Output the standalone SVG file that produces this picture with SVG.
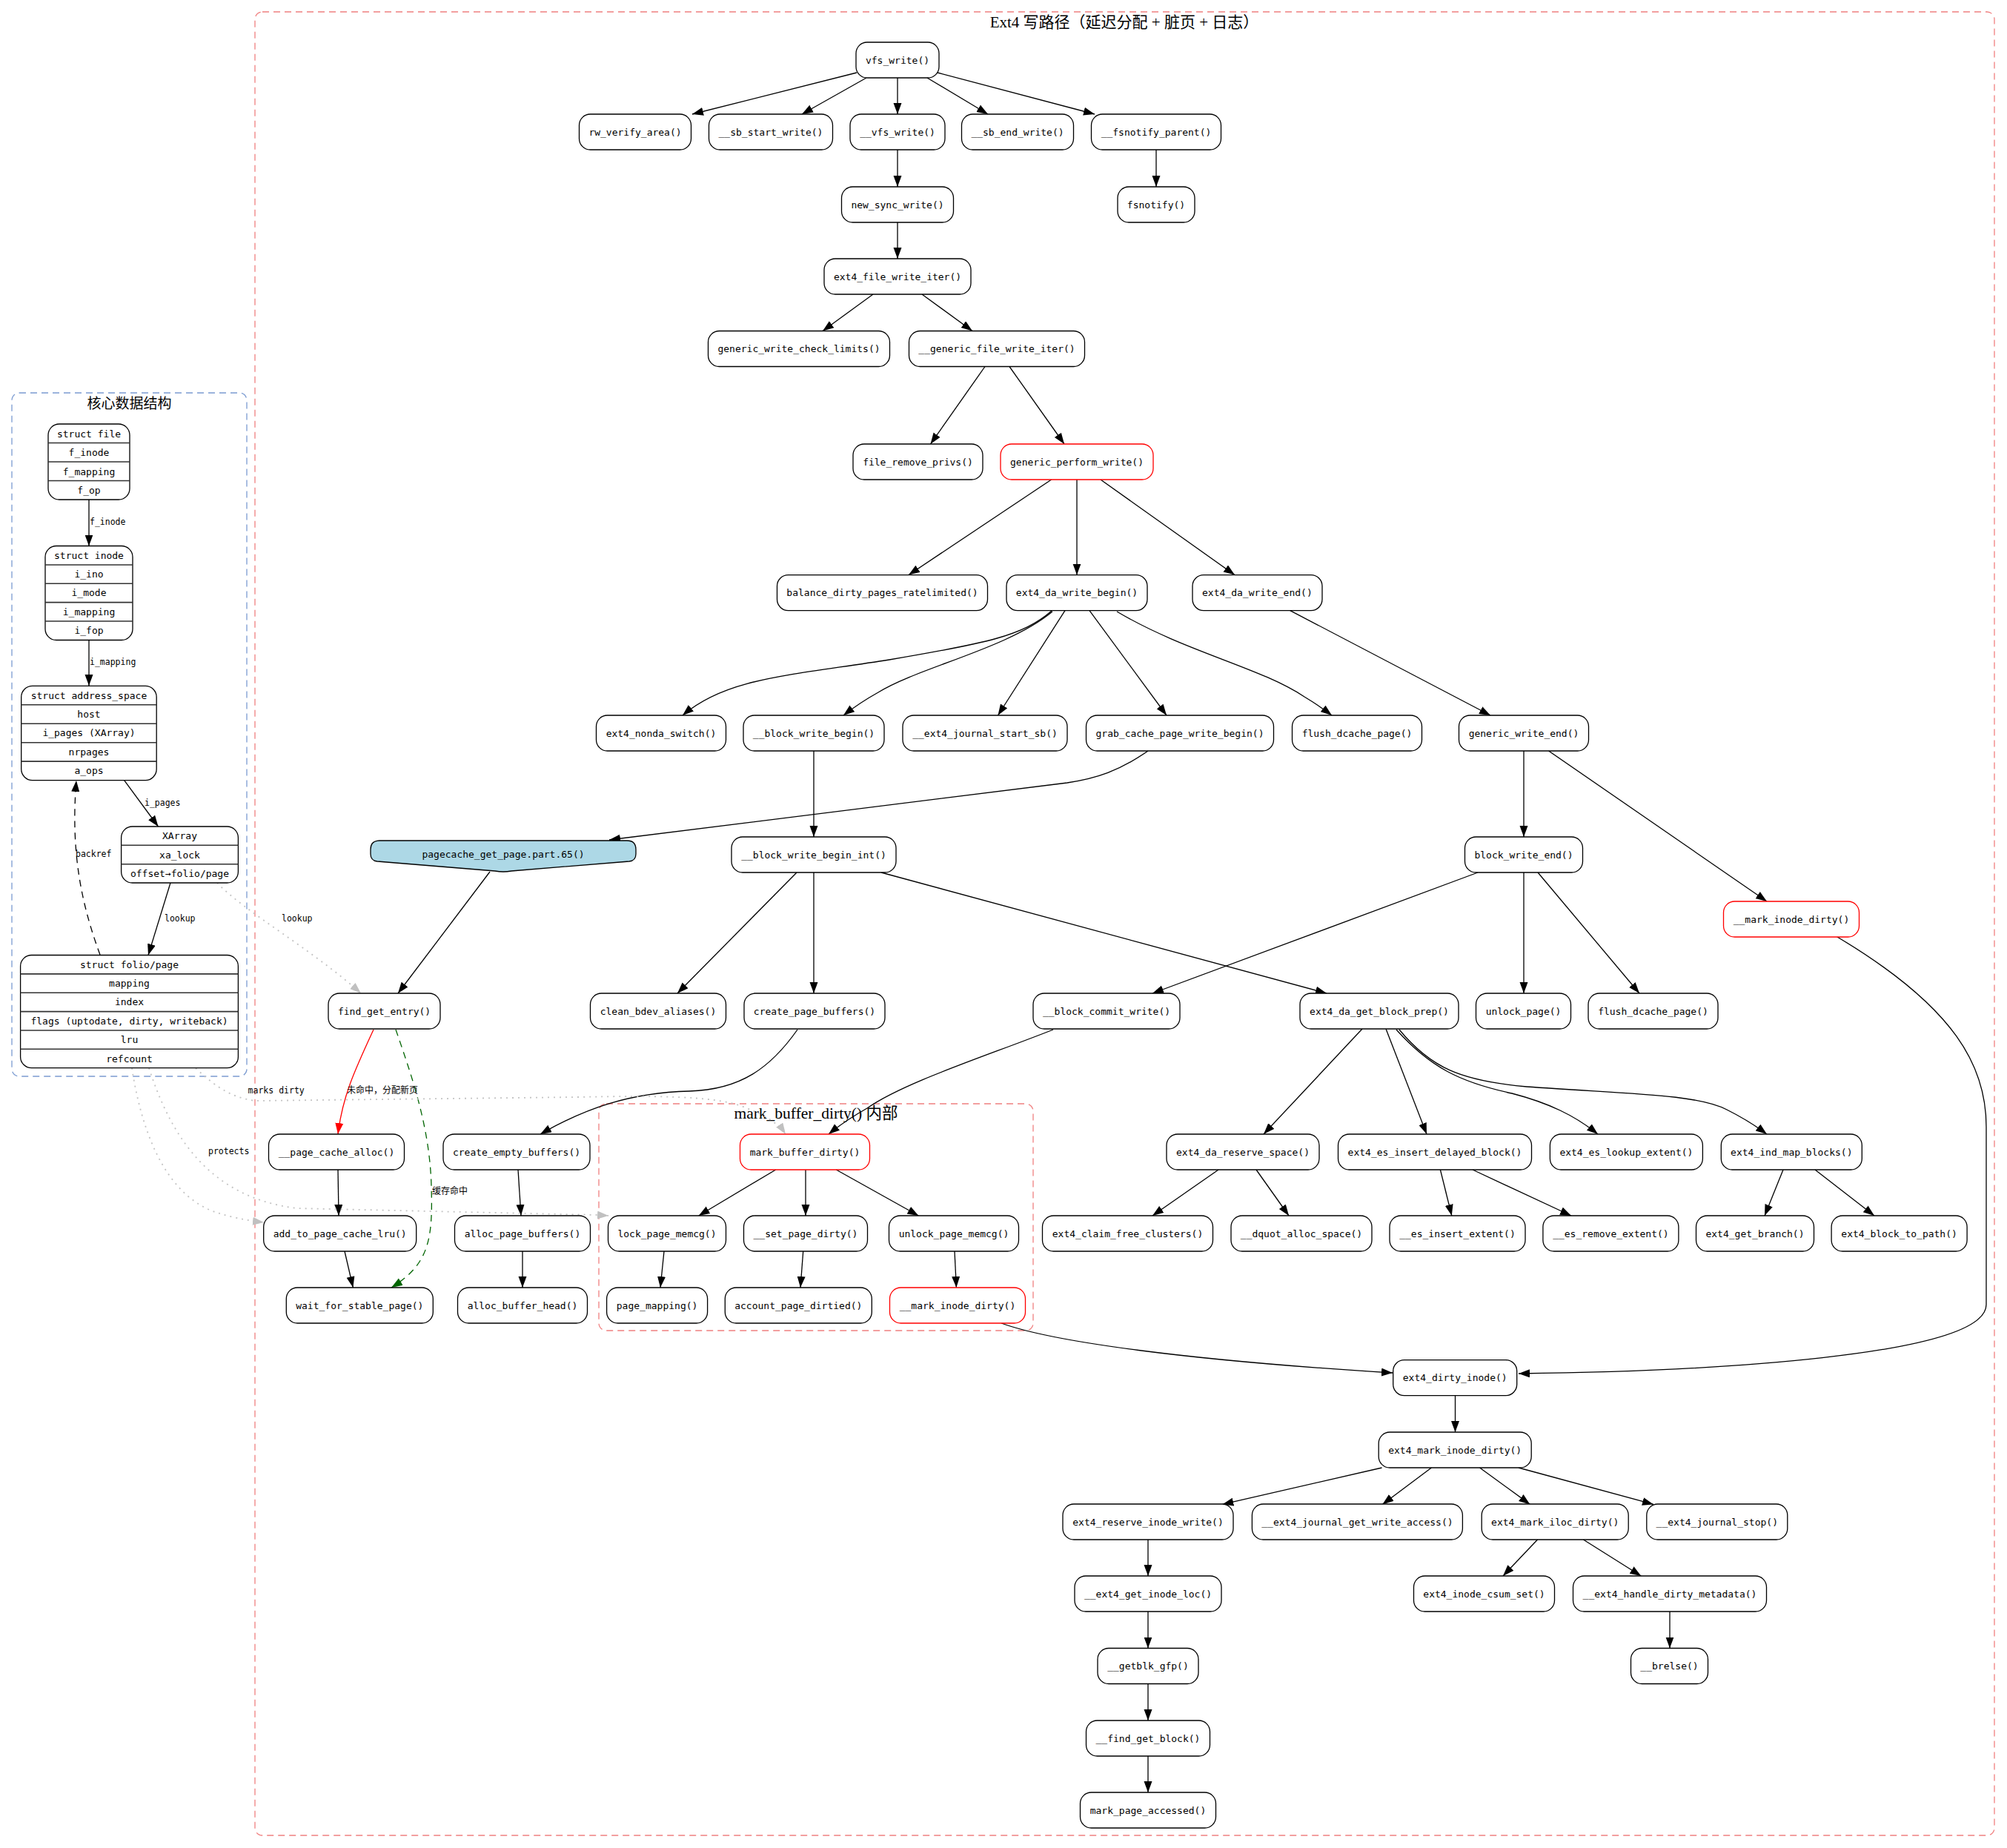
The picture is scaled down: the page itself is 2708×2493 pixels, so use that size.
<svg xmlns="http://www.w3.org/2000/svg" width="2708" height="2493" viewBox="0 0 2708 2493">
<style>
.bg{fill:#fff}
.b{fill:#fff;stroke:#000;stroke-width:1.3}
.r{stroke:#f00}
.t{font-family:"DejaVu Sans Mono",monospace;font-size:13px;text-anchor:middle;fill:#000}
.el{font-family:"DejaVu Sans Mono","Noto Sans CJK SC",monospace;font-size:11.5px;fill:#000}
.ct{font-family:"Liberation Serif","Noto Sans CJK SC",serif;font-size:19px;text-anchor:middle;fill:#000}
.cl{fill:none;stroke:#f08080;stroke-width:1.3;stroke-dasharray:9 6}
.cb{fill:none;stroke:#7b9bd1;stroke-width:1.3;stroke-dasharray:9 6}
.e{fill:none;stroke:#000;stroke-width:1.3}
.dv{stroke:#333;stroke-width:1.6}
.g{fill:none;stroke:#c4c4c4;stroke-width:1.8;stroke-dasharray:2 6}
</style>
<defs>
<marker id="a" markerUnits="userSpaceOnUse" markerWidth="16" markerHeight="12" refX="15" refY="5.5" orient="auto"><path d="M0,0 L15,5.5 L0,11 z" fill="#000"/></marker>
<marker id="ar" markerUnits="userSpaceOnUse" markerWidth="16" markerHeight="12" refX="15" refY="5.5" orient="auto"><path d="M0,0 L15,5.5 L0,11 z" fill="#f00"/></marker>
<marker id="ag" markerUnits="userSpaceOnUse" markerWidth="16" markerHeight="12" refX="15" refY="5.5" orient="auto"><path d="M0,0 L15,5.5 L0,11 z" fill="#006400"/></marker>
<marker id="ay" markerUnits="userSpaceOnUse" markerWidth="16" markerHeight="12" refX="15" refY="5.5" orient="auto"><path d="M0,0 L15,5.5 L0,11 z" fill="#c0c0c0"/></marker>
</defs>
<rect class="bg" x="0" y="0" width="2708" height="2493"/>

<g id="clusters">
<rect class="cl" x="344" y="16" width="2347" height="2460" rx="10"/>
<text class="ct" x="1517" y="37" style="font-size:21px">Ext4 写路径（延迟分配 + 脏页 + 日志）</text>
<rect class="cb" x="16" y="530" width="317" height="922" rx="10"/>
<text class="ct" x="174.5" y="551">核心数据结构</text>
<rect class="cl" x="808" y="1489" width="586" height="306" rx="10"/>
<text class="ct" x="1101" y="1509" style="font-size:21.5px">mark_buffer_dirty() 内部</text>
</g>

<g id="edges">
<path class="e" marker-end="url(#a)" d="M1156,98 L934,154"/>
<path class="e" marker-end="url(#a)" d="M1169,105 L1082,154"/>
<path class="e" marker-end="url(#a)" d="M1211,105 L1211,154"/>
<path class="e" marker-end="url(#a)" d="M1251,105 L1333,154"/>
<path class="e" marker-end="url(#a)" d="M1265,98 L1477,154"/>
<path class="e" marker-end="url(#a)" d="M1211,202 L1211,252"/>
<path class="e" marker-end="url(#a)" d="M1560,202 L1560,252"/>
<path class="e" marker-end="url(#a)" d="M1211,300 L1211,349"/>
<path class="e" marker-end="url(#a)" d="M1178,397 L1110,446.5"/>
<path class="e" marker-end="url(#a)" d="M1244,397 L1312,446.5"/>
<path class="e" marker-end="url(#a)" d="M1329,494.5 L1255.5,599"/>
<path class="e" marker-end="url(#a)" d="M1362,494.5 L1436,599"/>
<path class="e" marker-end="url(#a)" d="M1418.6,647 L1226,775.6"/>
<path class="e" marker-end="url(#a)" d="M1453,647 L1453,775.6"/>
<path class="e" marker-end="url(#a)" d="M1485,647 L1666,775.6"/>
<path class="e" marker-end="url(#a)" d="M1419,824 C1380,858 1330,868 1200,890 C1060,912 980,915 921,965"/>
<path class="e" marker-end="url(#a)" d="M1420,825 C1360,875 1240,900 1185,934 Q1160,948 1138,965"/>
<path class="e" marker-end="url(#a)" d="M1437,823.6 L1346.5,965"/>
<path class="e" marker-end="url(#a)" d="M1470,823.6 L1574,965"/>
<path class="e" marker-end="url(#a)" d="M1507,825 C1600,880 1700,900 1760,940 Q1780,952 1797,965"/>
<path class="e" marker-end="url(#a)" d="M1740.7,823.6 L2011,965"/>
<path class="e" marker-end="url(#a)" d="M2056,1013 L2056,1129"/>
<path class="e" marker-end="url(#a)" d="M2089.6,1013 L2384,1216"/>
<path class="e" marker-end="url(#a)" d="M1549,1013 C1510,1040 1480,1050 1440,1056 L822,1133"/>
<path class="e" marker-end="url(#a)" d="M1098,1013 L1098,1129"/>
<path class="e" marker-end="url(#a)" d="M661,1176 L537,1340"/>
<path class="e" marker-end="url(#a)" d="M1075,1177 L914,1340"/>
<path class="e" marker-end="url(#a)" d="M1098,1177 L1098,1340"/>
<path class="e" marker-end="url(#a)" d="M1189,1177 L1790,1340"/>
<path class="e" marker-end="url(#a)" d="M1994,1177 L1555,1340"/>
<path class="e" marker-end="url(#a)" d="M2056,1177 L2056,1340"/>
<path class="e" marker-end="url(#a)" d="M2075,1177 L2212,1340"/>
<path class="e" marker-end="url(#a)" d="M2478.6,1263.7 C2640,1360 2680,1440 2680,1520 L2680,1760 C2680,1830 2300,1850 2049,1853"/>
<path class="e" style="stroke:#f00" marker-end="url(#ar)" d="M504,1389 C478,1445 462,1480 456,1530"/>
<path class="e" style="stroke:#006400;stroke-dasharray:9 7" marker-end="url(#ag)" d="M534,1389 C555,1450 580,1520 582,1600 C584,1670 580,1705 528,1737"/>
<path class="e" marker-end="url(#a)" d="M1076,1389 C1040,1440 1000,1470 930,1472 C850,1474 790,1495 729,1530"/>
<path class="e" marker-end="url(#a)" d="M1421,1389 C1330,1425 1220,1460 1170,1495 Q1140,1512 1118,1530"/>
<path class="e" marker-end="url(#a)" d="M1838,1388 L1705,1530"/>
<path class="e" marker-end="url(#a)" d="M1870,1388 L1925,1530"/>
<path class="e" marker-end="url(#a)" d="M1884,1389 C1930,1440 1970,1460 2040,1475 C2090,1488 2125,1505 2156,1530"/>
<path class="e" marker-end="url(#a)" d="M1888,1389 C1930,1440 1970,1458 2060,1466 C2200,1476 2290,1476 2330,1497 Q2360,1512 2384,1530"/>
<path class="e" marker-end="url(#a)" d="M456,1578 L457,1640"/>
<path class="e" marker-end="url(#a)" d="M465,1688 L476.4,1737"/>
<path class="e" marker-end="url(#a)" d="M699,1578 L703,1640"/>
<path class="e" marker-end="url(#a)" d="M705,1688 L705,1737"/>
<path class="e" marker-end="url(#a)" d="M1046.7,1578 L942.7,1640"/>
<path class="e" marker-end="url(#a)" d="M1087,1578 L1087,1640"/>
<path class="e" marker-end="url(#a)" d="M1128.3,1578 L1239.4,1640"/>
<path class="e" marker-end="url(#a)" d="M896,1688 L891,1737"/>
<path class="e" marker-end="url(#a)" d="M1083.7,1688 L1080,1737"/>
<path class="e" marker-end="url(#a)" d="M1288,1688 L1290.4,1737"/>
<path class="e" marker-end="url(#a)" d="M1644,1578 L1555,1640"/>
<path class="e" marker-end="url(#a)" d="M1695,1578 L1739,1640"/>
<path class="e" marker-end="url(#a)" d="M1943.4,1578 L1958.8,1640"/>
<path class="e" marker-end="url(#a)" d="M1987,1578 L2120,1640"/>
<path class="e" marker-end="url(#a)" d="M2406,1578 L2381,1640"/>
<path class="e" marker-end="url(#a)" d="M2449,1578 L2529,1640"/>
<path class="e" marker-end="url(#a)" d="M1351,1785 C1420,1810 1600,1835 1879,1852"/>
<path class="e" marker-end="url(#a)" d="M1963.5,1882.5 L1963.5,1932"/>
<path class="e" marker-end="url(#a)" d="M1864.5,1980 L1649.3,2029.4"/>
<path class="e" marker-end="url(#a)" d="M1931.4,1980 L1865.3,2029.4"/>
<path class="e" marker-end="url(#a)" d="M1996.6,1980 L2064.4,2029.4"/>
<path class="e" marker-end="url(#a)" d="M2049,1980 L2231,2029.4"/>
<path class="e" marker-end="url(#a)" d="M1549,2077 L1549,2126"/>
<path class="e" marker-end="url(#a)" d="M2074.5,2077 L2028,2126"/>
<path class="e" marker-end="url(#a)" d="M2136.4,2077 L2214.3,2126"/>
<path class="e" marker-end="url(#a)" d="M1549,2174 L1549,2223.5"/>
<path class="e" marker-end="url(#a)" d="M2253,2174 L2253,2223.5"/>
<path class="e" marker-end="url(#a)" d="M1549,2271.5 L1549,2321"/>
<path class="e" marker-end="url(#a)" d="M1549,2369 L1549,2418"/>
<path class="e" marker-end="url(#a)" d="M120,674 L120,736.5"/>
<path class="e" marker-end="url(#a)" d="M120,863 L120,925"/>
<path class="e" marker-end="url(#a)" d="M167.6,1052.6 L213.5,1115"/>
<path class="e" marker-end="url(#a)" d="M230,1191 L200,1288.5"/>
<path class="e" style="stroke-dasharray:9 7" marker-end="url(#a)" d="M135,1288 C110,1220 95,1150 103,1053"/>
<path class="g" marker-end="url(#ay)" d="M293,1191 C330,1230 420,1280 487,1340"/>
<path class="g" marker-end="url(#ay)" d="M264,1441 C290,1465 310,1480 344,1485 L780,1480 C880,1478 960,1478 1000,1492 C1030,1503 1050,1515 1060,1530"/>
<path class="g" marker-end="url(#ay)" d="M178,1441 C190,1520 220,1610 290,1635 Q320,1645 356,1649"/>
<path class="g" marker-end="url(#ay)" d="M201,1441 C230,1530 280,1615 400,1630 L805,1639 L821,1640"/>
<text class="el" x="121" y="708">f_inode</text>
<text class="el" x="121" y="897">i_mapping</text>
<text class="el" x="195" y="1086.5">i_pages</text>
<text class="el" x="222" y="1243">lookup</text>
<text class="el" x="102" y="1155.5">backref</text>
<text class="el" x="380" y="1243">lookup</text>
<text class="el" x="334.6" y="1474.5">marks dirty</text>
<text class="el" x="281" y="1557">protects</text>
<text class="el" x="468" y="1475" style="font-size:12px">未命中，分配新页</text>
<text class="el" x="583" y="1611" style="font-size:12px">缓存命中</text>
</g>

<g id="struct_file">
<rect class="b" x="65" y="572" width="110" height="102" rx="15"/>
<line class="dv" x1="65" y1="597.5" x2="175" y2="597.5"/><line class="dv" x1="65" y1="623" x2="175" y2="623"/><line class="dv" x1="65" y1="648.5" x2="175" y2="648.5"/>
<text class="t" x="120" y="589.5">struct file</text><text class="t" x="120" y="615">f_inode</text><text class="t" x="120" y="640.5">f_mapping</text><text class="t" x="120" y="666">f_op</text>
</g>
<g id="struct_inode">
<rect class="b" x="61" y="736.5" width="118" height="127" rx="15"/>
<line class="dv" x1="61" y1="762" x2="179" y2="762"/><line class="dv" x1="61" y1="787.3" x2="179" y2="787.3"/><line class="dv" x1="61" y1="812.6" x2="179" y2="812.6"/><line class="dv" x1="61" y1="838" x2="179" y2="838"/>
<text class="t" x="120" y="753.7">struct inode</text><text class="t" x="120" y="779">i_ino</text><text class="t" x="120" y="804.4">i_mode</text><text class="t" x="120" y="829.8">i_mapping</text><text class="t" x="120" y="855">i_fop</text>
</g>
<g id="address_space">
<rect class="b" x="28.7" y="925.3" width="182.5" height="127.3" rx="15"/>
<line class="dv" x1="28.7" y1="950.8" x2="211.2" y2="950.8"/><line class="dv" x1="28.7" y1="976.2" x2="211.2" y2="976.2"/><line class="dv" x1="28.7" y1="1001.7" x2="211.2" y2="1001.7"/><line class="dv" x1="28.7" y1="1027.1" x2="211.2" y2="1027.1"/>
<text class="t" x="120" y="942.5">struct address_space</text><text class="t" x="120" y="968">host</text><text class="t" x="120" y="993.4">i_pages (XArray)</text><text class="t" x="120" y="1018.9">nrpages</text><text class="t" x="120" y="1044.3">a_ops</text>
</g>
<g id="xarray">
<rect class="b" x="163.6" y="1115" width="157.8" height="76" rx="15"/>
<line class="dv" x1="163.6" y1="1140.3" x2="321.4" y2="1140.3"/><line class="dv" x1="163.6" y1="1165.7" x2="321.4" y2="1165.7"/>
<text class="t" x="242.5" y="1132">XArray</text><text class="t" x="242.5" y="1157.5">xa_lock</text><text class="t" x="242.5" y="1182.8">offset→folio/page</text>
</g>
<g id="folio_page">
<rect class="b" x="27.6" y="1288.5" width="293.8" height="152.2" rx="15"/>
<line class="dv" x1="27.6" y1="1313.9" x2="321.4" y2="1313.9"/><line class="dv" x1="27.6" y1="1339.2" x2="321.4" y2="1339.2"/><line class="dv" x1="27.6" y1="1364.6" x2="321.4" y2="1364.6"/><line class="dv" x1="27.6" y1="1390" x2="321.4" y2="1390"/><line class="dv" x1="27.6" y1="1415.3" x2="321.4" y2="1415.3"/>
<text class="t" x="174.5" y="1305.7">struct folio/page</text><text class="t" x="174.5" y="1331">mapping</text><text class="t" x="174.5" y="1356.4">index</text><text class="t" x="174.5" y="1381.8">flags (uptodate, dirty, writeback)</text><text class="t" x="174.5" y="1407.2">lru</text><text class="t" x="174.5" y="1432.5">refcount</text>
</g>

<g id="vfs_write"><rect class="b" x="1155" y="57" width="112" height="48" rx="15"/><text class="t" x="1211" y="85.5">vfs_write()</text></g>
<g id="rw_verify_area"><rect class="b" x="781.5" y="154" width="151" height="48" rx="15"/><text class="t" x="857" y="182.5">rw_verify_area()</text></g>
<g id="sb_start_write"><rect class="b" x="956.5" y="154" width="167" height="48" rx="15"/><text class="t" x="1040" y="182.5">__sb_start_write()</text></g>
<g id="__vfs_write"><rect class="b" x="1147" y="154" width="128" height="48" rx="15"/><text class="t" x="1211" y="182.5">__vfs_write()</text></g>
<g id="sb_end_write"><rect class="b" x="1297.5" y="154" width="151" height="48" rx="15"/><text class="t" x="1373" y="182.5">__sb_end_write()</text></g>
<g id="fsnotify_parent"><rect class="b" x="1472.5" y="154" width="175" height="48" rx="15"/><text class="t" x="1560" y="182.5">__fsnotify_parent()</text></g>
<g id="new_sync_write"><rect class="b" x="1135.5" y="252" width="151" height="48" rx="15"/><text class="t" x="1211" y="280.5">new_sync_write()</text></g>
<g id="fsnotify"><rect class="b" x="1508" y="252" width="104" height="48" rx="15"/><text class="t" x="1560" y="280.5">fsnotify()</text></g>
<g id="ext4_file_write_iter"><rect class="b" x="1112" y="349" width="198" height="48" rx="15"/><text class="t" x="1211" y="377.5">ext4_file_write_iter()</text></g>
<g id="generic_write_check_limits"><rect class="b" x="955.5" y="446.5" width="245" height="48" rx="15"/><text class="t" x="1078" y="475">generic_write_check_limits()</text></g>
<g id="generic_file_write_iter"><rect class="b" x="1226.5" y="446.5" width="237" height="48" rx="15"/><text class="t" x="1345" y="475">__generic_file_write_iter()</text></g>
<g id="file_remove_privs"><rect class="b" x="1151" y="599" width="175" height="48" rx="15"/><text class="t" x="1238.5" y="627.5">file_remove_privs()</text></g>
<g id="generic_perform_write"><rect class="b r" x="1350" y="599" width="206" height="48" rx="15"/><text class="t" x="1453" y="627.5">generic_perform_write()</text></g>
<g id="balance_dirty_pages_ratelimited"><rect class="b" x="1048.5" y="775.6" width="284" height="48" rx="15"/><text class="t" x="1190.5" y="804.1">balance_dirty_pages_ratelimited()</text></g>
<g id="ext4_da_write_begin"><rect class="b" x="1358" y="775.6" width="190" height="48" rx="15"/><text class="t" x="1453" y="804.1">ext4_da_write_begin()</text></g>
<g id="ext4_da_write_end"><rect class="b" x="1609" y="775.6" width="175" height="48" rx="15"/><text class="t" x="1696.4" y="804.1">ext4_da_write_end()</text></g>
<g id="ext4_nonda_switch"><rect class="b" x="804.5" y="965" width="175" height="48" rx="15"/><text class="t" x="892" y="993.5">ext4_nonda_switch()</text></g>
<g id="block_write_begin"><rect class="b" x="1003" y="965" width="190" height="48" rx="15"/><text class="t" x="1098" y="993.5">__block_write_begin()</text></g>
<g id="ext4_journal_start_sb"><rect class="b" x="1218" y="965" width="222" height="48" rx="15"/><text class="t" x="1329" y="993.5">__ext4_journal_start_sb()</text></g>
<g id="grab_cache_page_write_begin"><rect class="b" x="1465.5" y="965" width="253" height="48" rx="15"/><text class="t" x="1592" y="993.5">grab_cache_page_write_begin()</text></g>
<g id="flush_dcache_page_1"><rect class="b" x="1743.5" y="965" width="175" height="48" rx="15"/><text class="t" x="1831" y="993.5">flush_dcache_page()</text></g>
<g id="generic_write_end"><rect class="b" x="1968.5" y="965" width="175" height="48" rx="15"/><text class="t" x="2056" y="993.5">generic_write_end()</text></g>
<g id="pagecache_get_page"><path d="M512,1134 L846,1134 Q858,1134 858,1146 L858,1152 Q858,1161 849,1162 L690,1175 Q679,1177 668,1175 L509,1162 Q500,1161 500,1152 L500,1146 Q500,1134 512,1134 Z" fill="#add8e6" stroke="#000" stroke-width="1.3"/><text class="t" x="679" y="1157">pagecache_get_page.part.65()</text></g>
<g id="block_write_begin_int"><rect class="b" x="987" y="1129" width="222" height="48" rx="15"/><text class="t" x="1098" y="1157.5">__block_write_begin_int()</text></g>
<g id="block_write_end"><rect class="b" x="1976.5" y="1129" width="159" height="48" rx="15"/><text class="t" x="2056" y="1157.5">block_write_end()</text></g>
<g id="mark_inode_dirty_outer"><rect class="b r" x="2325.5" y="1216" width="183" height="48" rx="15"/><text class="t" x="2417" y="1244.5">__mark_inode_dirty()</text></g>
<g id="find_get_entry"><rect class="b" x="443" y="1340" width="151" height="48" rx="15"/><text class="t" x="518.6" y="1368.5">find_get_entry()</text></g>
<g id="clean_bdev_aliases"><rect class="b" x="796.5" y="1340" width="183" height="48" rx="15"/><text class="t" x="888" y="1368.5">clean_bdev_aliases()</text></g>
<g id="create_page_buffers"><rect class="b" x="1004" y="1340" width="190" height="48" rx="15"/><text class="t" x="1099" y="1368.5">create_page_buffers()</text></g>
<g id="block_commit_write"><rect class="b" x="1394" y="1340" width="198" height="48" rx="15"/><text class="t" x="1493" y="1368.5">__block_commit_write()</text></g>
<g id="ext4_da_get_block_prep"><rect class="b" x="1754" y="1340" width="214" height="48" rx="15"/><text class="t" x="1861" y="1368.5">ext4_da_get_block_prep()</text></g>
<g id="unlock_page"><rect class="b" x="1991.5" y="1340" width="128" height="48" rx="15"/><text class="t" x="2055.5" y="1368.5">unlock_page()</text></g>
<g id="flush_dcache_page_2"><rect class="b" x="2143" y="1340" width="175" height="48" rx="15"/><text class="t" x="2230.5" y="1368.5">flush_dcache_page()</text></g>
<g id="page_cache_alloc"><rect class="b" x="362.5" y="1530" width="183" height="48" rx="15"/><text class="t" x="454" y="1558.5">__page_cache_alloc()</text></g>
<g id="create_empty_buffers"><rect class="b" x="598" y="1530" width="198" height="48" rx="15"/><text class="t" x="697" y="1558.5">create_empty_buffers()</text></g>
<g id="mark_buffer_dirty"><rect class="b r" x="998.5" y="1530" width="175" height="48" rx="15"/><text class="t" x="1086" y="1558.5">mark_buffer_dirty()</text></g>
<g id="ext4_da_reserve_space"><rect class="b" x="1574" y="1530" width="206" height="48" rx="15"/><text class="t" x="1677" y="1558.5">ext4_da_reserve_space()</text></g>
<g id="ext4_es_insert_delayed_block"><rect class="b" x="1805.5" y="1530" width="261" height="48" rx="15"/><text class="t" x="1936" y="1558.5">ext4_es_insert_delayed_block()</text></g>
<g id="ext4_es_lookup_extent"><rect class="b" x="2091.4" y="1530" width="206" height="48" rx="15"/><text class="t" x="2194.4" y="1558.5">ext4_es_lookup_extent()</text></g>
<g id="ext4_ind_map_blocks"><rect class="b" x="2322.3" y="1530" width="190" height="48" rx="15"/><text class="t" x="2417.3" y="1558.5">ext4_ind_map_blocks()</text></g>
<g id="add_to_page_cache_lru"><rect class="b" x="355.7" y="1640" width="206" height="48" rx="15"/><text class="t" x="458.7" y="1668.5">add_to_page_cache_lru()</text></g>
<g id="alloc_page_buffers"><rect class="b" x="613.5" y="1640" width="183" height="48" rx="15"/><text class="t" x="705" y="1668.5">alloc_page_buffers()</text></g>
<g id="lock_page_memcg"><rect class="b" x="820.5" y="1640" width="159" height="48" rx="15"/><text class="t" x="900" y="1668.5">lock_page_memcg()</text></g>
<g id="set_page_dirty"><rect class="b" x="1003.5" y="1640" width="167" height="48" rx="15"/><text class="t" x="1087" y="1668.5">__set_page_dirty()</text></g>
<g id="unlock_page_memcg"><rect class="b" x="1199.5" y="1640" width="175" height="48" rx="15"/><text class="t" x="1287" y="1668.5">unlock_page_memcg()</text></g>
<g id="ext4_claim_free_clusters"><rect class="b" x="1406.5" y="1640" width="230" height="48" rx="15"/><text class="t" x="1521.5" y="1668.5">ext4_claim_free_clusters()</text></g>
<g id="dquot_alloc_space"><rect class="b" x="1661" y="1640" width="190" height="48" rx="15"/><text class="t" x="1756" y="1668.5">__dquot_alloc_space()</text></g>
<g id="es_insert_extent"><rect class="b" x="1875" y="1640" width="183" height="48" rx="15"/><text class="t" x="1966.5" y="1668.5">__es_insert_extent()</text></g>
<g id="es_remove_extent"><rect class="b" x="2081.9" y="1640" width="183" height="48" rx="15"/><text class="t" x="2173.4" y="1668.5">__es_remove_extent()</text></g>
<g id="ext4_get_branch"><rect class="b" x="2288.5" y="1640" width="159" height="48" rx="15"/><text class="t" x="2368" y="1668.5">ext4_get_branch()</text></g>
<g id="ext4_block_to_path"><rect class="b" x="2471.1" y="1640" width="183" height="48" rx="15"/><text class="t" x="2562.6" y="1668.5">ext4_block_to_path()</text></g>
<g id="wait_for_stable_page"><rect class="b" x="386.3" y="1737" width="198" height="48" rx="15"/><text class="t" x="485.3" y="1765.5">wait_for_stable_page()</text></g>
<g id="alloc_buffer_head"><rect class="b" x="617.5" y="1737" width="175" height="48" rx="15"/><text class="t" x="705" y="1765.5">alloc_buffer_head()</text></g>
<g id="page_mapping"><rect class="b" x="818.6" y="1737" width="136" height="48" rx="15"/><text class="t" x="886.6" y="1765.5">page_mapping()</text></g>
<g id="account_page_dirtied"><rect class="b" x="978.3" y="1737" width="198" height="48" rx="15"/><text class="t" x="1077.3" y="1765.5">account_page_dirtied()</text></g>
<g id="mark_inode_dirty_inner"><rect class="b r" x="1200.5" y="1737" width="183" height="48" rx="15"/><text class="t" x="1292" y="1765.5">__mark_inode_dirty()</text></g>
<g id="ext4_dirty_inode"><rect class="b" x="1879.7" y="1834.6" width="167" height="48" rx="15"/><text class="t" x="1963.2" y="1863.1">ext4_dirty_inode()</text></g>
<g id="ext4_mark_inode_dirty"><rect class="b" x="1860.2" y="1932" width="206" height="48" rx="15"/><text class="t" x="1963.2" y="1960.5">ext4_mark_inode_dirty()</text></g>
<g id="ext4_reserve_inode_write"><rect class="b" x="1434" y="2029" width="230" height="48" rx="15"/><text class="t" x="1549" y="2057.5">ext4_reserve_inode_write()</text></g>
<g id="ext4_journal_get_write_access"><rect class="b" x="1689.4" y="2029" width="284" height="48" rx="15"/><text class="t" x="1831.4" y="2057.5">__ext4_journal_get_write_access()</text></g>
<g id="ext4_mark_iloc_dirty"><rect class="b" x="1999.2" y="2029" width="198" height="48" rx="15"/><text class="t" x="2098.2" y="2057.5">ext4_mark_iloc_dirty()</text></g>
<g id="ext4_journal_stop"><rect class="b" x="2221.8" y="2029" width="190" height="48" rx="15"/><text class="t" x="2316.8" y="2057.5">__ext4_journal_stop()</text></g>
<g id="ext4_get_inode_loc"><rect class="b" x="1450" y="2126" width="198" height="48" rx="15"/><text class="t" x="1549" y="2154.5">__ext4_get_inode_loc()</text></g>
<g id="ext4_inode_csum_set"><rect class="b" x="1907.5" y="2126" width="190" height="48" rx="15"/><text class="t" x="2002.5" y="2154.5">ext4_inode_csum_set()</text></g>
<g id="ext4_handle_dirty_metadata"><rect class="b" x="2122.5" y="2126" width="261" height="48" rx="15"/><text class="t" x="2253" y="2154.5">__ext4_handle_dirty_metadata()</text></g>
<g id="getblk_gfp"><rect class="b" x="1481" y="2223.5" width="136" height="48" rx="15"/><text class="t" x="1549" y="2252">__getblk_gfp()</text></g>
<g id="brelse"><rect class="b" x="2200.5" y="2223.5" width="104" height="48" rx="15"/><text class="t" x="2252.5" y="2252">__brelse()</text></g>
<g id="find_get_block"><rect class="b" x="1465.5" y="2321" width="167" height="48" rx="15"/><text class="t" x="1549" y="2349.5">__find_get_block()</text></g>
<g id="mark_page_accessed"><rect class="b" x="1457.5" y="2418" width="183" height="48" rx="15"/><text class="t" x="1549" y="2446.5">mark_page_accessed()</text></g>
</svg>
